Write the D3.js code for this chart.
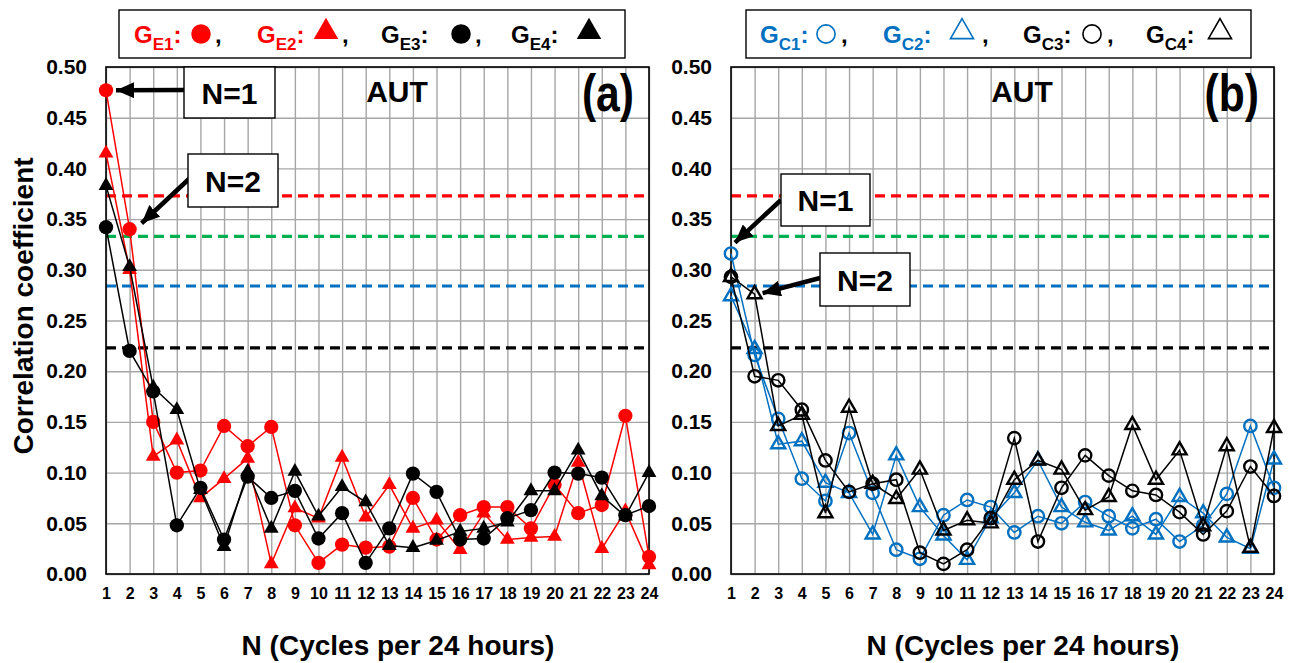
<!DOCTYPE html>
<html>
<head>
<meta charset="utf-8">
<script src="https://cdn.jsdelivr.net/npm/d3@7"></script>
<style>
  body { margin: 0; background: #fff; }
  text { font-family: "Liberation Sans", Arial, sans-serif; font-weight: bold; }
</style>
</head>
<body>
<div id="container"></div>
<script>
const WIDTH = 1298,
      HEIGHT = 663;

// N = cycles per 24 hours
const cycles = d3.range(1, 25);
const yTickValues = [0, 0.05, 0.10, 0.15, 0.20, 0.25, 0.30, 0.35, 0.40, 0.45, 0.50];

// significance levels (dashed lines)
const refValues = [0.373, 0.333, 0.284, 0.223];
const refColors = ["#ff0000", "#00b050", "#0070c0", "#000000"];

// panel (a)
const gE1 = [0.477, 0.340, 0.150, 0.100, 0.102, 0.146, 0.126, 0.145, 0.048, 0.011, 0.029, 0.026,
             0.027, 0.075, 0.034, 0.058, 0.066, 0.066, 0.045, 0.088, 0.060, 0.068, 0.156, 0.017];
const gE2 = [0.415, 0.300, 0.116, 0.132, 0.075, 0.094, 0.114, 0.010, 0.065, 0.055, 0.115, 0.056,
             0.088, 0.045, 0.053, 0.024, 0.060, 0.034, 0.036, 0.037, 0.110, 0.025, 0.062, 0.009];
const gE3 = [0.342, 0.220, 0.180, 0.048, 0.085, 0.034, 0.096, 0.075, 0.082, 0.035, 0.060, 0.011,
             0.045, 0.099, 0.081, 0.034, 0.035, 0.055, 0.063, 0.100, 0.099, 0.095, 0.058, 0.067];
const gE4 = [0.383, 0.303, 0.184, 0.162, 0.083, 0.027, 0.101, 0.045, 0.101, 0.057, 0.086, 0.071,
             0.028, 0.026, 0.033, 0.042, 0.045, 0.051, 0.082, 0.082, 0.122, 0.077, 0.057, 0.100];

// panel (b)
const gC1 = [0.316, 0.216, 0.153, 0.094, 0.072, 0.139, 0.080, 0.024, 0.015, 0.058, 0.073, 0.066,
             0.041, 0.057, 0.050, 0.071, 0.057, 0.045, 0.054, 0.032, 0.048, 0.079, 0.146, 0.085];
const gC2 = [0.274, 0.222, 0.128, 0.131, 0.090, 0.080, 0.039, 0.117, 0.066, 0.038, 0.014, 0.055,
             0.080, 0.112, 0.066, 0.051, 0.043, 0.057, 0.039, 0.076, 0.060, 0.036, 0.025, 0.113];
const gC3 = [0.293, 0.195, 0.191, 0.162, 0.112, 0.081, 0.089, 0.093, 0.021, 0.010, 0.024, 0.055,
             0.134, 0.032, 0.085, 0.117, 0.097, 0.082, 0.078, 0.061, 0.039, 0.062, 0.106, 0.077];
const gC4 = [0.293, 0.276, 0.146, 0.157, 0.060, 0.164, 0.089, 0.074, 0.103, 0.043, 0.053, 0.050,
             0.093, 0.112, 0.103, 0.063, 0.076, 0.147, 0.093, 0.122, 0.047, 0.126, 0.026, 0.144];

const RED = "#ff0000", BLUE = "#0070c0", BLACK = "#000000";

const plotTop = 67, plotBottom = 574, plotW = 543;

const svg = d3.select("#container").append("svg")
    .attr("width", WIDTH).attr("height", HEIGHT);

svg.append("defs").append("marker")
    .attr("id", "arrow")
    .attr("markerUnits", "userSpaceOnUse")
    .attr("markerWidth", 18).attr("markerHeight", 16)
    .attr("refX", 18).attr("refY", 8)
    .attr("orient", "auto")
    .append("path")
    .attr("d", "M0,0 L18,8 L0,16 Z")
    .attr("fill", "#000");

const drawPanel = (p) => {
    const x = d3.scaleLinear().domain([1, 24]).range([p.left, p.left + plotW]);
    const y = d3.scaleLinear().domain([0, 0.5]).range([plotBottom, plotTop]);

    const g = svg.append("g");

    // x grid + labels
    g.append("g")
        .attr("transform", `translate(0, ${plotBottom})`)
        .call(d3.axisBottom(x).tickValues(cycles).tickSize(-(plotBottom - plotTop)).tickPadding(14))
        .call(a => a.select(".domain").remove())
        .call(a => a.selectAll("line").attr("stroke", "#a6a6a6").attr("stroke-width", 1.4))
        .call(a => a.selectAll("text").attr("fill", "#000")
            .style("font-size", "16px").style("font-weight", "bold")
            .style("font-family", "'Liberation Sans', Arial, sans-serif"));

    // y grid + labels
    g.append("g")
        .attr("transform", `translate(${p.left}, 0)`)
        .call(d3.axisLeft(y).tickValues(yTickValues).tickSize(-plotW).tickPadding(19)
            .tickFormat(d3.format(".2f")))
        .call(a => a.select(".domain").remove())
        .call(a => a.selectAll("line").attr("stroke", "#a6a6a6").attr("stroke-width", 1.4))
        .call(a => a.selectAll("text").attr("fill", "#000")
            .style("font-size", "21px").style("font-weight", "bold")
            .style("font-family", "'Liberation Sans', Arial, sans-serif"));

    // reference lines
    g.selectAll(".ref")
        .data(refValues)
        .join("line")
        .attr("x1", p.left).attr("x2", p.left + plotW)
        .attr("y1", d => y(d)).attr("y2", d => y(d))
        .attr("stroke", (d, i) => refColors[i])
        .attr("stroke-width", 3.2)
        .attr("stroke-dasharray", "10,6");

    // border
    g.append("rect")
        .attr("x", p.left).attr("y", plotTop)
        .attr("width", plotW).attr("height", plotBottom - plotTop)
        .attr("fill", "none").attr("stroke", "#000").attr("stroke-width", 1.6);

    // series
    const line = d3.line().x((d, i) => x(cycles[i])).y(d => y(d));
    p.series.forEach(s => {
        g.append("path")
            .attr("d", line(s.values))
            .attr("fill", "none")
            .attr("stroke", s.color)
            .attr("stroke-width", 1.5);

        const m = g.append("g").selectAll("path")
            .data(s.values)
            .join("path")
            .attr("transform", (d, i) => `translate(${x(cycles[i])}, ${y(d)})`);
        const size = s.shape === "circle" ? (s.filled ? 160 : 120) : (s.filled ? 95 : 85);
        m.attr("d", d3.symbol(s.shape === "circle" ? d3.symbolCircle : d3.symbolTriangle, size)());
        if (s.filled) {
            m.attr("fill", s.color);
        } else {
            m.attr("fill", "none").attr("stroke", s.color).attr("stroke-width", 2.4);
        }
    });

    // axis titles
    svg.append("text")
        .attr("x", p.left + 292).attr("y", 655)
        .attr("text-anchor", "middle")
        .style("font-size", "28px")
        .text("N (Cycles per 24 hours)");

    svg.append("text")
        .attr("x", p.left + 291).attr("y", 102)
        .attr("text-anchor", "middle")
        .style("font-size", "30px")
        .text("AUT");

    svg.append("text")
        .attr("transform", `translate(${p.left + plotW - 15}, 111) scale(0.82, 1)`)
        .attr("text-anchor", "end")
        .style("font-size", "52px")
        .text(p.tag);

    // legend
    svg.append("rect")
        .attr("x", p.legend.x).attr("y", 10)
        .attr("width", p.legend.w).attr("height", 48)
        .attr("fill", "#fff").attr("stroke", "#000").attr("stroke-width", 1.4);

    p.legend.items.forEach(it => {
        const t = svg.append("text")
            .attr("x", it.gx).attr("y", 43)
            .attr("fill", it.color)
            .style("font-size", "24px");
        t.append("tspan").text("G");
        t.append("tspan").attr("dy", 7).style("font-size", "17px").text(it.sub);
        t.append("tspan").attr("dy", -7).text(":");

        const lm = svg.append("path")
            .attr("transform", `translate(${it.mx}, ${it.shape === "circle" ? 34 : 32})`)
            .attr("d", d3.symbol(it.shape === "circle" ? d3.symbolCircle : d3.symbolTriangle,
                it.shape === "circle" ? (it.filled ? 300 : 260) : (it.filled ? 260 : 230))());
        if (it.filled) lm.attr("fill", it.color);
        else lm.attr("fill", "none").attr("stroke", it.color).attr("stroke-width", 1.6);

        if (it.comma) {
            svg.append("text")
                .attr("x", it.mx + it.cx).attr("y", 43)
                .style("font-size", "24px")
                .text(",");
        }
    });

    // annotations
    p.notes.forEach(n => {
        svg.append("line")
            .attr("x1", n.from[0]).attr("y1", n.from[1])
            .attr("x2", x(n.n) + n.off[0]).attr("y2", y(n.v) + n.off[1])
            .attr("stroke", "#000").attr("stroke-width", 4.5)
            .attr("marker-end", "url(#arrow)");
        svg.append("rect")
            .attr("x", n.box[0]).attr("y", n.box[1])
            .attr("width", n.box[2]).attr("height", n.box[3])
            .attr("fill", "#fff").attr("stroke", "#000").attr("stroke-width", 1.4);
        svg.append("text")
            .attr("x", n.box[0] + n.box[2] / 2).attr("y", n.box[1] + n.box[3] / 2 + 11)
            .attr("text-anchor", "middle")
            .style("font-size", "30px")
            .text(n.label);
    });
};

drawPanel({
    left: 106,
    tag: "(a)",
    series: [
        { values: gE1, color: RED, shape: "circle", filled: true },
        { values: gE2, color: RED, shape: "triangle", filled: true },
        { values: gE3, color: BLACK, shape: "circle", filled: true },
        { values: gE4, color: BLACK, shape: "triangle", filled: true },
    ],
    legend: {
        x: 119, w: 506,
        items: [
            { gx: 134, sub: "E1", color: RED, shape: "circle", filled: true, mx: 201, cx: 14, comma: true },
            { gx: 257, sub: "E2", color: RED, shape: "triangle", filled: true, mx: 326, cx: 16, comma: true },
            { gx: 381, sub: "E3", color: BLACK, shape: "circle", filled: true, mx: 461, cx: 14, comma: true },
            { gx: 511, sub: "E4", color: BLACK, shape: "triangle", filled: true, mx: 589, cx: 0, comma: false },
        ]
    },
    notes: [
        { label: "N=1", box: [184, 67, 91, 51], from: [184, 90], n: 1, v: gE1[0], off: [10, 0] },
        { label: "N=2", box: [188, 154, 90, 53], from: [190, 178], n: 2, v: gE1[1], off: [12, -6] },
    ]
});

drawPanel({
    left: 731,
    tag: "(b)",
    series: [
        { values: gC1, color: BLUE, shape: "circle", filled: false },
        { values: gC2, color: BLUE, shape: "triangle", filled: false },
        { values: gC3, color: BLACK, shape: "circle", filled: false },
        { values: gC4, color: BLACK, shape: "triangle", filled: false },
    ],
    legend: {
        x: 746, w: 505,
        items: [
            { gx: 760, sub: "C1", color: BLUE, shape: "circle", filled: false, mx: 826, cx: 15, comma: true },
            { gx: 883, sub: "C2", color: BLUE, shape: "triangle", filled: false, mx: 962, cx: 20, comma: true },
            { gx: 1023, sub: "C3", color: BLACK, shape: "circle", filled: false, mx: 1092, cx: 15, comma: true },
            { gx: 1146, sub: "C4", color: BLACK, shape: "triangle", filled: false, mx: 1220, cx: 0, comma: false },
        ]
    },
    notes: [
        { label: "N=1", box: [781, 174, 89, 52], from: [781, 200], n: 1, v: gC1[0], off: [4, -11] },
        { label: "N=2", box: [820, 253, 90, 53], from: [820, 278], n: 2, v: gC4[1], off: [8, -1] },
    ]
});

// y axis title
svg.append("text")
    .attr("transform", "translate(33, 306) rotate(-90)")
    .attr("text-anchor", "middle")
    .style("font-size", "28px")
    .text("Correlation coefficient");
</script>
</body>
</html>
